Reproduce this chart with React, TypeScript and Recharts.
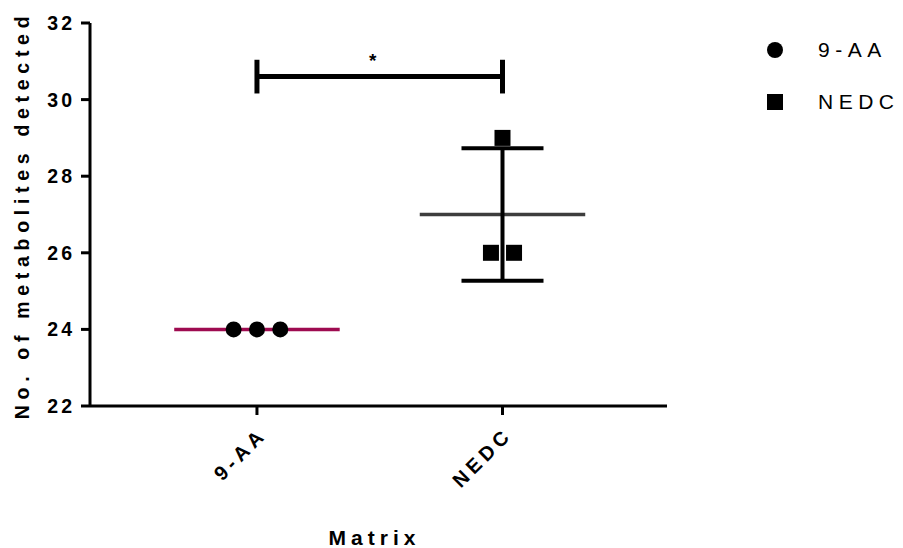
import {
  ScatterChart,
  Scatter,
  XAxis,
  YAxis,
  ReferenceLine,
  Legend,
  Label,
} from "recharts";

const categories = ["9-AA", "NEDC"];
const categoryPositions = [1, 2];
const yTicks = [22, 24, 26, 28, 30, 32];

// replicate values and their horizontal scatter offset (as drawn)
const nineAAValues = [24, 24, 24];
const nineAAOffsets = [-0.095, 0, 0.095];
const nedcValues = [29, 26, 26];
const nedcOffsets = [0, -0.047, 0.047];

const significanceY = 30.6;
const significanceText = "*";

const FONT = "'Liberation Sans', Arial, sans-serif";

const toPoints = (values: number[], offsets: number[], pos: number) =>
  values.map((v, i) => ({ x: pos + offsets[i], y: v }));

const mean = (v: number[]) => v.reduce((a, b) => a + b, 0) / v.length;
const sd = (v: number[]) => {
  const m = mean(v);
  return Math.sqrt(v.reduce((a, b) => a + (b - m) * (b - m), 0) / (v.length - 1));
};

const groups = [
  { name: categories[0], pos: categoryPositions[0], values: nineAAValues, meanColor: "#9e0b50" },
  { name: categories[1], pos: categoryPositions[1], values: nedcValues, meanColor: "#3d3d3d" },
];

const XTick = (props: any) => {
  const { x, y, payload } = props;
  const idx = categoryPositions.indexOf(payload.value);
  const tx = x + 6;
  const ty = y + 14;
  return (
    <text
      x={tx}
      y={ty}
      transform={`rotate(-45, ${tx}, ${ty})`}
      textAnchor="end"
      dominantBaseline="central"
      fontFamily={FONT}
      fontWeight="bold"
      fontSize={20}
      letterSpacing={4.5}
      fill="#000"
    >
      {categories[idx]}
    </text>
  );
};

const YLabel = () => (
  <text
    x={22}
    y={215}
    transform="rotate(-90, 22, 215)"
    textAnchor="middle"
    dominantBaseline="central"
    fontFamily={FONT}
    fontWeight="bold"
    fontSize={19.5}
    letterSpacing={5.7}
    fill="#000"
  >
    No. of metabolites detected
  </text>
);

const LegendContent = () => (
  <div style={{ fontFamily: FONT, fontSize: 21, letterSpacing: 5.5, color: "#000" }}>
    <div style={{ display: "flex", alignItems: "center", height: 26 }}>
      <svg width={51} height={20}>
        <circle cx={8} cy={10} r={8} fill="#000" />
      </svg>
      <span>{categories[0]}</span>
    </div>
    <div style={{ display: "flex", alignItems: "center", height: 26, marginTop: 26 }}>
      <svg width={51} height={20}>
        <rect x={0} y={2} width={16} height={16} fill="#000" />
      </svg>
      <span>{categories[1]}</span>
    </div>
  </div>
);

export default function App() {
  const nineAAPoints = toPoints(nineAAValues, nineAAOffsets, categoryPositions[0]);
  const nedcPoints = toPoints(nedcValues, nedcOffsets, categoryPositions[1]);

  return (
    <div style={{ width: 903, height: 548, background: "#fff" }}>
      <style>{`body{margin:0}`}</style>
      <ScatterChart
        width={903}
        height={548}
        margin={{ top: 23, right: 100, bottom: 0, left: 0 }}
      >
        <XAxis
          type="number"
          dataKey="x"
          domain={[0.32, 2.67]}
          ticks={categoryPositions}
          allowDataOverflow
          height={142}
          tickSize={9}
          tick={<XTick />}
          axisLine={{ stroke: "#000", strokeWidth: 3 }}
          tickLine={{ stroke: "#000", strokeWidth: 3 }}
        >
          <Label
            value="Matrix"
            position="insideBottom"
            offset={3}
            dx={-4}
            fontFamily={FONT}
            fontWeight="bold"
            fontSize={21}
            letterSpacing={5}
            fill="#000"
          />
        </XAxis>
        <YAxis
          type="number"
          dataKey="y"
          domain={[22, 32]}
          ticks={yTicks}
          width={90}
          tickSize={9}
          tickMargin={6}
          tick={{ fontFamily: FONT, fontWeight: "bold", fontSize: 19.5, letterSpacing: 3, fill: "#000" }}
          axisLine={{ stroke: "#000", strokeWidth: 3 }}
          tickLine={{ stroke: "#000", strokeWidth: 3 }}
          label={<YLabel />}
        />
        <Legend
          layout="vertical"
          align="right"
          verticalAlign="top"
          content={<LegendContent />}
          wrapperStyle={{ left: 767, top: 37, width: 136 }}
        />

        {groups.map((g) => {
          const m = mean(g.values);
          return (
            <ReferenceLine
              key={`mean-${g.name}`}
              segment={[
                { x: g.pos - 0.337, y: m },
                { x: g.pos + 0.337, y: m },
              ]}
              stroke={g.meanColor}
              strokeWidth={3.5}
              ifOverflow="visible"
            />
          );
        })}
        {groups
          .filter((g) => sd(g.values) > 0)
          .flatMap((g) => {
            const m = mean(g.values);
            const s = sd(g.values);
            return [
              <ReferenceLine
                key={`err-v-${g.name}`}
                segment={[
                  { x: g.pos, y: m - s },
                  { x: g.pos, y: m + s },
                ]}
                stroke="#000"
                strokeWidth={4}
                ifOverflow="visible"
              />,
              <ReferenceLine
                key={`err-t-${g.name}`}
                segment={[
                  { x: g.pos - 0.167, y: m + s },
                  { x: g.pos + 0.167, y: m + s },
                ]}
                stroke="#000"
                strokeWidth={4}
                ifOverflow="visible"
              />,
              <ReferenceLine
                key={`err-b-${g.name}`}
                segment={[
                  { x: g.pos - 0.167, y: m - s },
                  { x: g.pos + 0.167, y: m - s },
                ]}
                stroke="#000"
                strokeWidth={4}
                ifOverflow="visible"
              />,
            ];
          })}

        {/* significance bracket */}
        <ReferenceLine
          segment={[
            { x: categoryPositions[0], y: significanceY },
            { x: categoryPositions[1], y: significanceY },
          ]}
          stroke="#000"
          strokeWidth={5}
          ifOverflow="visible"
        >
          <Label
            value={significanceText}
            position="top"
            offset={10}
            dx={-7}
            fontFamily={FONT}
            fontWeight="bold"
            fontSize={19}
            fill="#000"
          />
        </ReferenceLine>
        {categoryPositions.map((p) => (
          <ReferenceLine
            key={`bracket-${p}`}
            segment={[
              { x: p, y: significanceY - 0.44 },
              { x: p, y: significanceY + 0.44 },
            ]}
            stroke="#000"
            strokeWidth={5}
            ifOverflow="visible"
          />
        ))}

        <Scatter
          name={categories[0]}
          data={nineAAPoints}
          isAnimationActive={false}
          shape={(p: any) => <circle cx={p.cx} cy={p.cy} r={8} fill="#000" />}
        />
        <Scatter
          name={categories[1]}
          data={nedcPoints}
          isAnimationActive={false}
          shape={(p: any) => (
            <rect x={p.cx - 8} y={p.cy - 8} width={16} height={16} fill="#000" />
          )}
        />
      </ScatterChart>
    </div>
  );
}
